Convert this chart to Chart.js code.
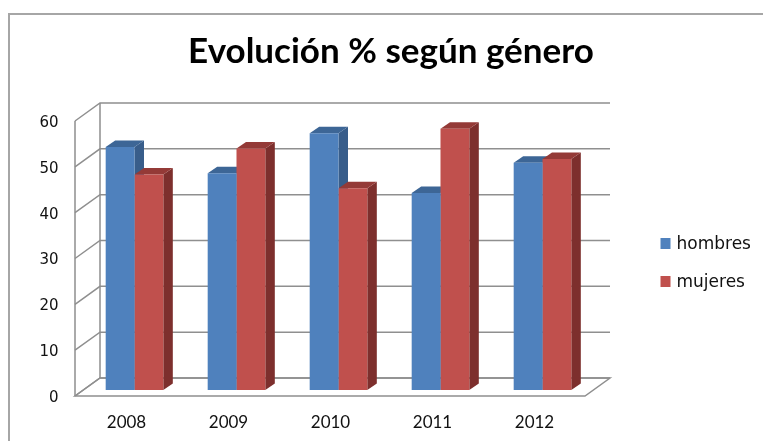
<!DOCTYPE html>
<html>
<head>
<meta charset="utf-8">
<title>Evolución % según género</title>
<script src="https://cdn.jsdelivr.net/npm/chart.js@4/dist/chart.umd.min.js"></script>
<style>
    html, body { margin: 0; padding: 0; background: #fff; }
    #wrap { width: 763px; height: 441px; position: relative; }
</style>
</head>
<body>
<div id="wrap"><canvas id="chart"></canvas></div>
<script>
const years = ['2008', '2009', '2010', '2011', '2012'];
const hombres = [53, 47.3, 56, 43, 49.6];
const mujeres = [47, 52.7, 44, 57, 50.4];
const yTicks = [0, 10, 20, 30, 40, 50, 60];

// oblique offsets from the bar front plane
const FRONT = { dx: -8.5, dy: 6 };
const BACK = { dx: 16.5, dy: -12 };
const DEPTH = { dx: 9.5, dy: -6.5 };

const frame = {
    id: 'frame',
    beforeDraw(chart) {
        const ctx = chart.ctx;
        ctx.save();
        ctx.strokeStyle = '#a6a6a6';
        ctx.lineWidth = 2;
        ctx.strokeRect(9, 14, 800, 500);
        ctx.restore();
    }
};

const walls = {
    id: 'walls',
    beforeDatasetsDraw(chart) {
        const { ctx, chartArea: a, scales: { y } } = chart;
        const y0 = y.getPixelForValue(0);
        const yTop = y.getPixelForValue(yTicks[yTicks.length - 1]);
        ctx.save();
        ctx.strokeStyle = '#8f8f8f';
        ctx.lineWidth = 1.5;

        // floor
        ctx.beginPath();
        ctx.moveTo(a.left + FRONT.dx, y0 + FRONT.dy);
        ctx.lineTo(a.right + FRONT.dx, y0 + FRONT.dy);
        ctx.lineTo(a.right + BACK.dx, y0 + BACK.dy);
        ctx.lineTo(a.left + BACK.dx, y0 + BACK.dy);
        ctx.closePath();
        ctx.stroke();

        // side wall + back wall gridlines
        yTicks.forEach(v => {
            const py = y.getPixelForValue(v);
            ctx.beginPath();
            ctx.moveTo(a.left + FRONT.dx, py + FRONT.dy);
            ctx.lineTo(a.left + BACK.dx, py + BACK.dy);
            ctx.lineTo(a.right + BACK.dx, py + BACK.dy);
            ctx.stroke();
        });

        // wall edges
        ctx.beginPath();
        ctx.moveTo(a.left + FRONT.dx, y0 + FRONT.dy);
        ctx.lineTo(a.left + FRONT.dx, yTop + FRONT.dy);
        ctx.moveTo(a.left + BACK.dx, y0 + BACK.dy);
        ctx.lineTo(a.left + BACK.dx, yTop + BACK.dy);
        ctx.stroke();

        // bar sides and tops
        chart.data.datasets.forEach((ds, i) => {
            chart.getDatasetMeta(i).data.forEach(bar => {
                const l = bar.x - bar.width / 2, r = bar.x + bar.width / 2;
                const t = bar.y, b = bar.base;
                ctx.fillStyle = ds.sideColor;
                ctx.beginPath();
                ctx.moveTo(r, b);
                ctx.lineTo(r + DEPTH.dx, b + DEPTH.dy);
                ctx.lineTo(r + DEPTH.dx, t + DEPTH.dy);
                ctx.lineTo(r, t);
                ctx.closePath();
                ctx.fill();
                ctx.fillStyle = ds.topColor;
                ctx.beginPath();
                ctx.moveTo(l, t);
                ctx.lineTo(l + DEPTH.dx, t + DEPTH.dy);
                ctx.lineTo(r + DEPTH.dx, t + DEPTH.dy);
                ctx.lineTo(r, t);
                ctx.closePath();
                ctx.fill();
            });
        });
        ctx.restore();
    }
};

const sideLegend = {
    id: 'sideLegend',
    afterDraw(chart) {
        const { ctx, chartArea: a } = chart;
        ctx.save();
        ctx.font = '17px "DejaVu Sans"';
        ctx.textBaseline = 'middle';
        chart.data.datasets.forEach((ds, i) => {
            const yy = 244 + i * 38;
            ctx.fillStyle = ds.backgroundColor;
            ctx.fillRect(a.right + 67, yy - 6, 10, 11);
            ctx.fillStyle = '#111';
            ctx.fillText(ds.label, a.right + 83, yy + 1);
        });
        ctx.restore();
    }
};

new Chart(document.getElementById('chart'), {
    type: 'bar',
    data: {
        labels: years,
        datasets: [
            { label: 'hombres', data: hombres, backgroundColor: '#4f81bd', sideColor: '#385d8a', topColor: '#3d6696' },
            { label: 'mujeres', data: mujeres, backgroundColor: '#c0504d', sideColor: '#7d2f2d', topColor: '#943a37' }
        ]
    },
    options: {
        responsive: true,
        maintainAspectRatio: false,
        animation: false,
        layout: { padding: { left: 19, top: 0, right: 0, bottom: 0 } },
        datasets: { bar: { categoryPercentage: 0.565, barPercentage: 1 } },
        scales: {
            x: {
                grid: { display: false },
                border: { display: false },
                ticks: { color: '#111', font: { family: 'Lato', size: 17 }, padding: 14, labelOffset: -8 },
                afterFit: s => { s.height = 51; }
            },
            y: {
                min: 0,
                max: 60,
                grid: { display: false },
                border: { display: false },
                afterBuildTicks: s => { s.ticks = yTicks.map(v => ({ value: v })); },
                ticks: { color: '#111', font: { family: 'DejaVu Sans', size: 15 }, padding: 17, labelOffset: 8 },
                afterFit: s => { s.width = 64.5; }
            },
            pad: {
                type: 'linear',
                position: 'right',
                grid: { display: false },
                border: { display: false },
                ticks: { display: false },
                afterFit: s => { s.width = 169.5; }
            }
        },
        plugins: {
            legend: { display: false },
            tooltip: { enabled: false },
            title: {
                display: true,
                text: 'Evolución % según género',
                color: '#000',
                font: { family: 'Lato', size: 35, weight: 'bold' },
                padding: { top: 31, bottom: 42 }
            }
        }
    },
    plugins: [frame, walls, sideLegend]
});
</script>
</body>
</html>
